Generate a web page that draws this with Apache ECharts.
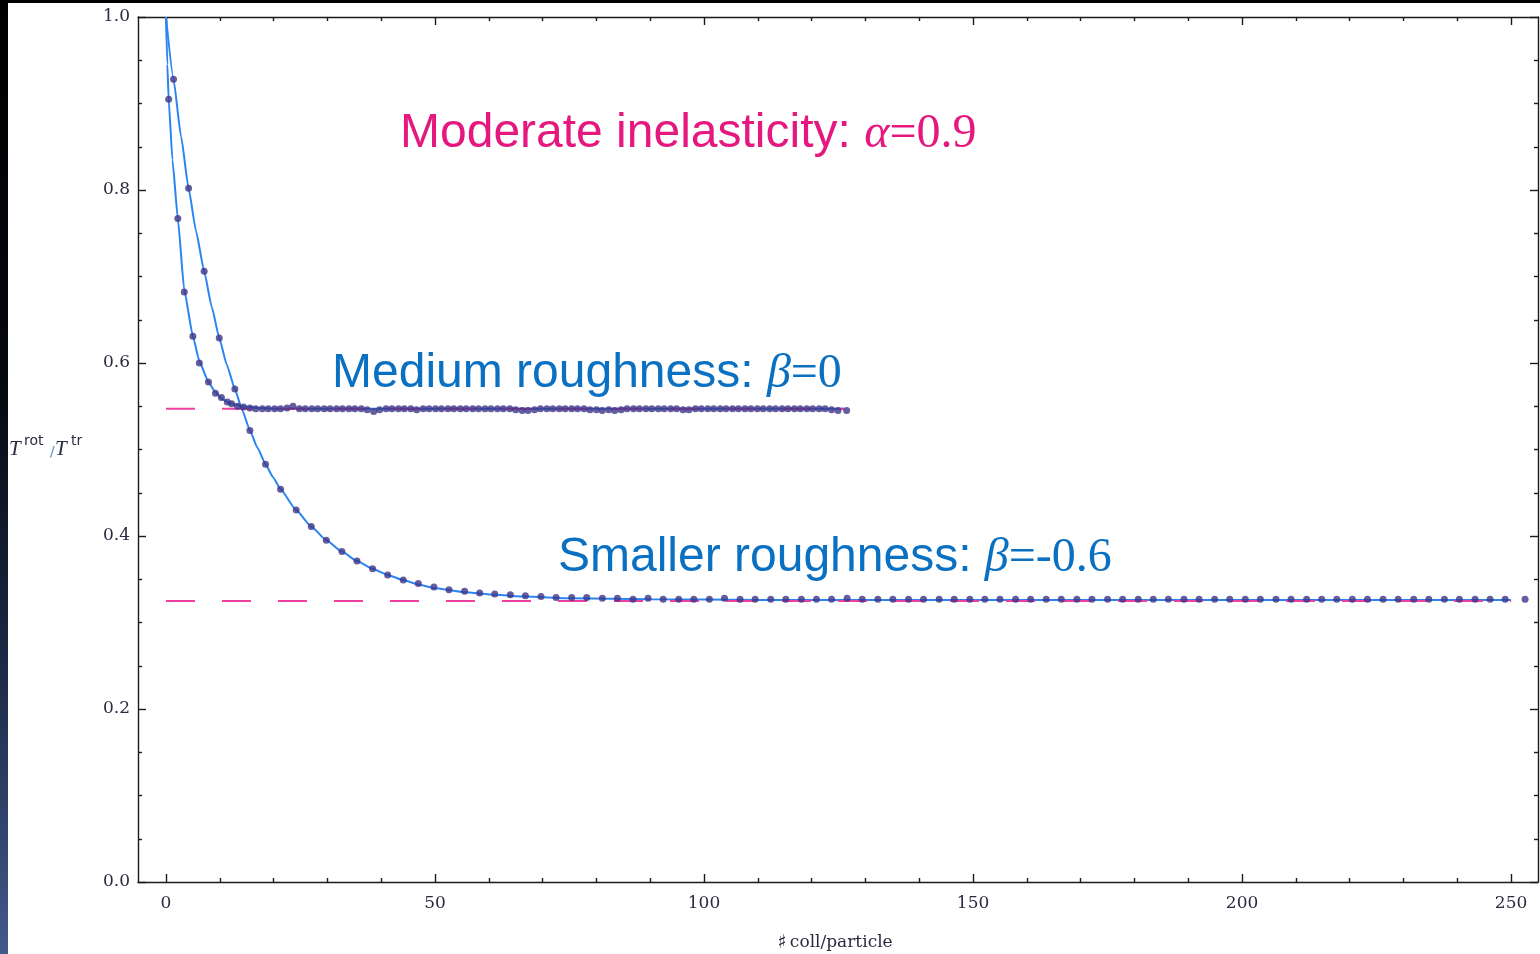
<!DOCTYPE html>
<html><head><meta charset="utf-8">
<script src="https://cdn.jsdelivr.net/npm/echarts@6/dist/echarts.min.js"></script>
<style>html,body{margin:0;padding:0;background:#fff;overflow:hidden}#c{width:1540px;height:954px;}</style>
</head><body><div id="c"></div><script>
// ---- tick labels / ticks ----
const xMajorTicks = [0, 50, 100, 150, 200, 250];
const xMinorTicks = [10,20,30,40,60,70,80,90,110,120,130,140,160,170,180,190,210,220,230,240];
const yMajorTicks = [0, 0.2, 0.4, 0.6, 0.8, 1.0];
const yMinorTicks = [0.05,0.1,0.15,0.25,0.3,0.35,0.45,0.5,0.55,0.65,0.7,0.75,0.85,0.9,0.95];

// ---- beta = 0 (medium roughness): simulation dots ----
const dotsA = [
 [0.5,0.905],[2.2,0.767],[3.4,0.682],[5.0,0.631],[6.2,0.600],[7.9,0.578],[9.2,0.565],[10.3,0.560],[11.4,0.555],[12.2,0.553],
 [13.3,0.550],[14.4,0.549],[15.6,0.548],[16.7,0.547],[17.9,0.547],[19.0,0.547],[20.2,0.547],[21.3,0.547],[22.5,0.548],[23.6,0.550],
 [24.8,0.547],[25.9,0.547],[27.1,0.547],[28.2,0.547],[29.4,0.547],[30.5,0.547],[31.7,0.547],[32.8,0.547],[34.0,0.547],[35.1,0.547],
 [36.3,0.547],[37.4,0.546],[38.6,0.544],[39.7,0.546],[40.9,0.547],[42.0,0.547],[43.2,0.547],[44.3,0.547],[45.5,0.547],[46.6,0.546],
 [47.8,0.547],[48.9,0.547],[50.1,0.547],[51.2,0.547],[52.4,0.547],[53.5,0.547],[54.7,0.547],[55.8,0.547],[57.0,0.547],[58.1,0.547],
 [59.3,0.547],[60.4,0.547],[61.6,0.547],[62.7,0.547],[63.9,0.547],[65.0,0.546],[66.2,0.545],[67.3,0.545],[68.5,0.546],[69.6,0.547],
 [70.8,0.547],[71.9,0.547],[73.1,0.547],[74.2,0.547],[75.4,0.547],[76.5,0.547],[77.7,0.547],[78.8,0.546],[80.0,0.546],[81.1,0.545],
 [82.3,0.546],[83.4,0.545],[84.6,0.546],[85.7,0.547],[86.9,0.547],[88.0,0.547],[89.2,0.547],[90.3,0.547],[91.5,0.547],[92.6,0.547],
 [93.8,0.547],[94.9,0.547],[96.1,0.546],[97.2,0.546],[98.4,0.547],[99.5,0.547],[100.7,0.547],[101.8,0.547],[103.0,0.547],[104.1,0.547],
 [105.3,0.547],[106.4,0.547],[107.6,0.547],[108.7,0.547],[109.9,0.547],[111.0,0.547],[112.2,0.547],[113.3,0.547],[114.5,0.547],[115.6,0.547],
 [116.8,0.547],[117.9,0.547],[119.1,0.547],[120.2,0.547],[121.4,0.547],[122.5,0.547],[123.7,0.546],[124.9,0.545],[126.5,0.545]
];
// ---- beta = 0 fitted curve ----
const lineA = [[0,1.0],[0.25,0.945],[0.5,0.905],[1.2,0.835],[2.2,0.767],[3.4,0.684],[5.0,0.631],[6.2,0.602],[7.9,0.578],[9.2,0.566],[10.3,0.559],
 [11.4,0.555],[12.2,0.553],[14,0.550],[17,0.548],[22,0.547],[126,0.547]];
// ---- beta = -0.6 (smaller roughness): simulation dots ----
const dotsB = [
 [1.4,0.928],[4.2,0.802],[7.1,0.706],[9.9,0.629],[12.8,0.570],[15.6,0.522],[18.5,0.483],[21.3,0.454],[24.2,0.430],[27.0,0.411],
 [29.8,0.395],[32.7,0.382],[35.5,0.371],[38.4,0.362],[41.2,0.355],[44.1,0.349],[46.9,0.345],[49.8,0.341],[52.6,0.338],[55.5,0.336],
 [58.3,0.334],[61.1,0.333],[64.0,0.332],[66.8,0.331],[69.7,0.330],[72.5,0.329],[75.4,0.329],[78.2,0.329],[81.1,0.328],[83.9,0.328],
 [86.8,0.327],[89.6,0.328],[92.4,0.327],[95.3,0.327],[98.1,0.327],[101.0,0.327],[103.8,0.328],[106.7,0.327],[109.5,0.327],[112.4,0.327],
 [115.2,0.327],[118.1,0.327],[120.9,0.327],[123.7,0.327],[126.6,0.328],[129.4,0.327],[132.3,0.327],[135.1,0.327],[138.0,0.327],[140.8,0.327],
 [143.7,0.327],[146.5,0.327],[149.4,0.327],[152.2,0.327],[155.0,0.327],[157.9,0.327],[160.7,0.327],[163.6,0.327],[166.4,0.327],[169.3,0.327],
 [172.1,0.327],[175.0,0.327],[177.8,0.327],[180.7,0.327],[183.5,0.327],[186.3,0.327],[189.2,0.327],[192.0,0.327],[194.9,0.327],[197.7,0.327],
 [200.6,0.327],[203.4,0.327],[206.3,0.327],[209.1,0.327],[212.0,0.327],[214.8,0.327],[217.6,0.327],[220.5,0.327],[223.3,0.327],[226.2,0.327],
 [229.0,0.327],[231.9,0.327],[234.7,0.327],[237.6,0.327],[240.4,0.327],[243.3,0.327],[246.1,0.327],[248.9,0.327],[252.6,0.327]
];
// ---- beta = -0.6 fitted curve ----
const lineB = [[0,1.0],[1.4,0.928],[2.8,0.862],[4.2,0.802],[5.6,0.752],[7.1,0.706],[8.5,0.665],[9.9,0.629],[11.3,0.598],[12.8,0.570],[14.2,0.545],
 [15.6,0.522],[17.0,0.502],[18.5,0.483],[19.9,0.468],[21.3,0.454],[24.2,0.430],[27.0,0.411],[29.8,0.395],[32.7,0.382],[35.5,0.371],
 [38.4,0.362],[41.2,0.355],[44.1,0.349],[46.9,0.344],[49.8,0.340],[55.5,0.335],[61.1,0.332],[66.8,0.330],[75.4,0.328],[90,0.327],
 [110,0.326],[250,0.326]];
// ---- asymptotic values (dashed) ----
const dashA = [[0,0.547],[126,0.547]];
const dashB = [[0,0.325],[250,0.325]];

const labelFont = {fontFamily:'DejaVu Serif', fontSize:17, color:'#2a2a40'};
const axisCol = '#1a1a1a';
function xAx(pos, ticks, len, labels, line){
  return {type:'value', position:pos, min:-5.2, max:255, splitLine:{show:false},
    axisLine:{show:line, onZero:false, lineStyle:{color:axisCol, width:1.4}},
    axisTick:{show:true, inside:true, length:len, customValues:ticks, lineStyle:{color:axisCol, width:1.4}},
    axisLabel: labels ? Object.assign({show:true, margin:13, customValues:xMajorTicks}, labelFont) : {show:false}};
}
function yAx(pos, ticks, len, labels, line){
  return {type:'value', position:pos, min:0, max:1, splitLine:{show:false},
    axisLine:{show:line, onZero:false, lineStyle:{color:axisCol, width:1.4}},
    axisTick:{show:true, inside:true, length:len, customValues:ticks, lineStyle:{color:axisCol, width:1.4}},
    axisLabel: labels ? Object.assign({show:true, margin:8, customValues:yMajorTicks, formatter:v=>v.toFixed(1)}, labelFont) : {show:false}};
}
const MAG = '#e5187f', BLU = '#0a70c2';
function rich(col){
  return {a:{fontFamily:'Liberation Sans', fontSize:48, fill:col, color:col},
          g:{fontFamily:'Liberation Serif', fontStyle:'italic', fontSize:48, fill:col, color:col},
          n:{fontFamily:'Liberation Serif', fontSize:48, fill:col, color:col}};
}

const chart = echarts.init(document.getElementById('c'), null, {renderer:'canvas'});
chart.setOption({
  animation:false,
  backgroundColor:'#ffffff',
  grid:{left:138, top:17, right:2, bottom:72, containLabel:false},
  xAxis:[xAx('bottom', xMajorTicks, 8, true, true), xAx('bottom', xMinorTicks, 4, false, false),
         xAx('top', xMajorTicks, 8, false, true), xAx('top', xMinorTicks, 4, false, false)],
  yAxis:[yAx('left', yMajorTicks, 8, true, true), yAx('left', yMinorTicks, 4, false, false),
         yAx('right', yMajorTicks, 8, false, true), yAx('right', yMinorTicks, 4, false, false)],
  series:[
    {type:'line', data:lineA, smooth:0.15, smoothMonotone:'x', showSymbol:false, lineStyle:{color:'#2a84f2', width:2}, z:2},
    {type:'line', data:lineB, smooth:0.15, smoothMonotone:'x', showSymbol:false, lineStyle:{color:'#2a84f2', width:2}, z:2},
    {type:'line', data:dashA, showSymbol:false, lineStyle:{color:'#ee3f9f', width:2, type:[29,27]}, z:3},
    {type:'line', data:dashB, showSymbol:false, lineStyle:{color:'#ee3f9f', width:2, type:[29,27]}, z:3},
    {type:'scatter', data:dotsA, symbol:'circle', symbolSize:7, itemStyle:{color:'#3d3587'}, z:4},
    {type:'scatter', data:dotsB, symbol:'circle', symbolSize:7, itemStyle:{color:'#3d3587'}, z:4}
  ],
  graphic:[
    {type:'rect', left:0, top:0, shape:{width:8, height:954}, z:100,
      style:{fill:new echarts.graphic.LinearGradient(0,0,0,1,[{offset:0,color:'#000000'},{offset:0.4,color:'#05080f'},{offset:0.7,color:'#1c2a46'},{offset:1,color:'#43598c'}])}},
    {type:'rect', left:0, top:0, shape:{width:1540, height:3}, style:{fill:'#000'}, z:100},
    {type:'text', x:400, y:134, z:50, style:{text:'{a|Moderate inelasticity: }{g|α}{n|=0.9}', verticalAlign:'middle', rich:rich(MAG)}},
    {type:'text', x:332, y:374, z:50, style:{text:'{a|Medium roughness: }{g|β}{n|=0}', verticalAlign:'middle', rich:rich(BLU)}},
    {type:'text', x:558, y:558, z:50, style:{text:'{a|Smaller roughness: }{g|β}{n|=-0.6}', verticalAlign:'middle', rich:rich(BLU)}},
    {type:'text', x:9, y:449, z:50, style:{text:'T', fontFamily:'Liberation Serif', fontStyle:'italic', fontSize:21, fill:'#2a2a40', verticalAlign:'middle'}},
    {type:'text', x:24, y:441, z:50, style:{text:'rot', fontFamily:'DejaVu Sans', fontSize:14, fill:'#2a2a40', verticalAlign:'middle'}},
    {type:'text', x:50, y:452, z:50, style:{text:'/', fontFamily:'DejaVu Sans', fontSize:14, fill:'#5a8fd0', verticalAlign:'middle'}},
    {type:'text', x:55, y:449, z:50, style:{text:'T', fontFamily:'Liberation Serif', fontStyle:'italic', fontSize:21, fill:'#2a2a40', verticalAlign:'middle'}},
    {type:'text', x:71, y:441, z:50, style:{text:'tr', fontFamily:'DejaVu Sans', fontSize:14, fill:'#2a2a40', verticalAlign:'middle'}},
    {type:'text', x:835, y:943, z:50, style:{text:'{s|♯} {t|coll/particle}', align:'center', verticalAlign:'middle',
      rich:{s:{fontFamily:'DejaVu Sans', fontSize:19, fill:'#2a2a40'}, t:{fontFamily:'DejaVu Serif', fontSize:17, fill:'#2a2a40'}}}}
  ]
});
</script></body></html>
